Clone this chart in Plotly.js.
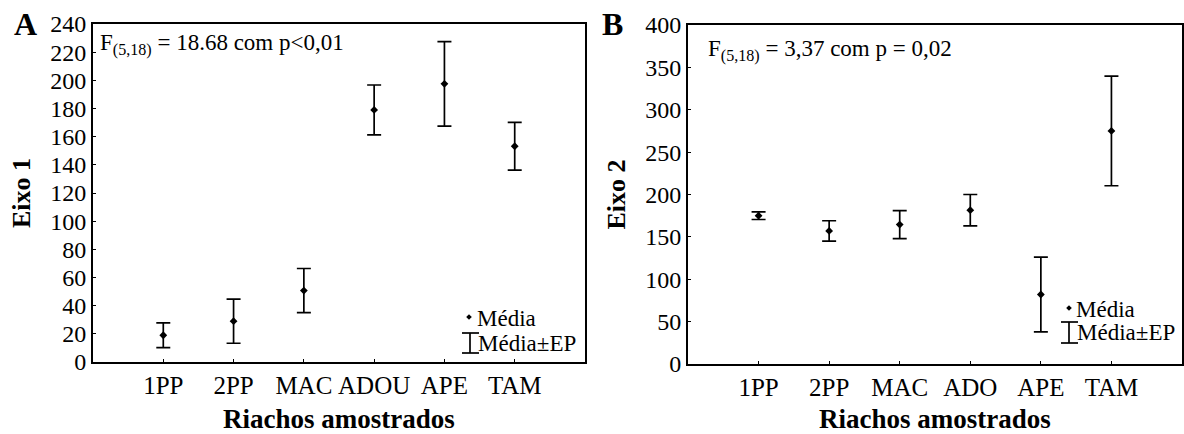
<!DOCTYPE html>
<html>
<head>
<meta charset="utf-8">
<script src="https://cdn.plot.ly/plotly-3.0.1.min.js"></script>
<style>html,body{margin:0;padding:0;background:#fff;}#chart{width:1184px;height:434px;}</style>
</head>
<body>
<div id="chart"></div>
<script>
// Panel A data (Eixo 1)
var categoriesA = ["1PP", "2PP", "MAC", "ADOU", "APE", "TAM"];
var meanA = [19, 29, 50.7, 179, 197.5, 153.2];
var seA = [8.8, 15.7, 15.7, 17.7, 30, 17];

// Panel B data (Eixo 2)
var categoriesB = ["1PP", "2PP", "MAC", "ADO", "APE", "TAM"];
var meanB = [175, 157, 164.5, 181.5, 82, 275];
var seB = [4.5, 12, 16.5, 18.5, 44, 64.7];

var W = 1184, H = 434;
function X(px){ return px / W; }
function Y(py){ return 1 - py / H; }

var FONT = 'Liberation Serif';

function trace(cats, means, se, xa, ya){
  return {
    type: 'scatter', mode: 'markers',
    x: cats, y: means, xaxis: xa, yaxis: ya,
    marker: {symbol: 'diamond', size: 6, color: '#000'},
    error_y: {type: 'data', array: se, visible: true, color: '#000', thickness: 1.7, width: 7},
    showlegend: false, hoverinfo: 'x+y'
  };
}

var data = [
  trace(categoriesA, meanA, seA, 'x', 'y'),
  trace(categoriesB, meanB, seB, 'x2', 'y2')
];

function xaxis(domain, anchor, cats){
  return {
    domain: domain, anchor: anchor, type: 'category', range: [-1, cats.length],
    showline: true, mirror: true, linecolor: '#000', linewidth: 2,
    ticks: 'inside', ticklen: 3, tickwidth: 1, tickcolor: '#000',
    showgrid: false, zeroline: false,
    tickfont: {family: FONT, size: 25, color: '#000'},
    title: {text: '<b>Riachos amostrados</b>', font: {family: FONT, size: 27, color: '#000'}, standoff: 11}
  };
}
function yaxis(domain, anchor, range, dtick, title){
  return {
    domain: domain, anchor: anchor, range: range, dtick: dtick,
    showline: true, mirror: true, linecolor: '#000', linewidth: 2,
    ticks: 'inside', ticklen: 3, tickwidth: 1, tickcolor: '#000',
    showgrid: false, zeroline: false,
    tickfont: {family: FONT, size: 24, color: '#000'},
    title: {text: '<b>' + title + '</b>', font: {family: FONT, size: 26, color: '#000'}, standoff: 12}
  };
}

var shapes = [];
var annotations = [];
function legendAt(dx, dy, tx, ty, bx, bt, bb, tx2, ty2){
  var s = 2.8;
  shapes.push({type: 'path', xref: 'paper', yref: 'paper',
    path: 'M ' + X(dx - s) + ',' + Y(dy) + ' L ' + X(dx) + ',' + Y(dy - s) + ' L ' + X(dx + s) + ',' + Y(dy) + ' L ' + X(dx) + ',' + Y(dy + s) + ' Z',
    fillcolor: '#000', line: {width: 0}});
  annotations.push({xref: 'paper', yref: 'paper', x: X(tx), y: Y(ty), xanchor: 'left', yanchor: 'middle',
    text: 'Média', showarrow: false, font: {family: FONT, size: 23, color: '#000'}});
  shapes.push({type: 'line', xref: 'paper', yref: 'paper', x0: X(bx), x1: X(bx), y0: Y(bt), y1: Y(bb), line: {color: '#000', width: 1.7}});
  shapes.push({type: 'line', xref: 'paper', yref: 'paper', x0: X(bx - 8), x1: X(bx + 9), y0: Y(bt), y1: Y(bt), line: {color: '#000', width: 1.7}});
  shapes.push({type: 'line', xref: 'paper', yref: 'paper', x0: X(bx - 8), x1: X(bx + 9), y0: Y(bb), y1: Y(bb), line: {color: '#000', width: 1.7}});
  annotations.push({xref: 'paper', yref: 'paper', x: X(tx2), y: Y(ty2), xanchor: 'left', yanchor: 'middle',
    text: 'Média±EP', showarrow: false, font: {family: FONT, size: 23, color: '#000'}});
}
legendAt(469, 317, 475, 318, 470, 333, 353, 476, 343);
legendAt(1069, 308, 1074, 309, 1069, 322, 343, 1075, 332);

annotations.push({xref: 'paper', yref: 'paper', x: X(98), y: Y(45), xanchor: 'left', yanchor: 'middle',
  text: 'F<sub>(5,18)</sub> = 18.68 com p&lt;0,01', showarrow: false, font: {family: FONT, size: 23, color: '#000'}});
annotations.push({xref: 'paper', yref: 'paper', x: X(706), y: Y(50), xanchor: 'left', yanchor: 'middle',
  text: 'F<sub>(5,18)</sub> = 3,37 com p = 0,02', showarrow: false, font: {family: FONT, size: 23, color: '#000'}});
annotations.push({xref: 'paper', yref: 'paper', x: X(25), y: Y(24), xanchor: 'center', yanchor: 'middle',
  text: '<b>A</b>', showarrow: false, font: {family: FONT, size: 32, color: '#000'}});
annotations.push({xref: 'paper', yref: 'paper', x: X(612), y: Y(24), xanchor: 'center', yanchor: 'middle',
  text: '<b>B</b>', showarrow: false, font: {family: FONT, size: 32, color: '#000'}});

var layout = {
  width: W, height: H,
  margin: {l: 0, r: 0, t: 0, b: 0},
  font: {family: FONT, color: '#000'},
  paper_bgcolor: '#fff', plot_bgcolor: '#fff',
  showlegend: false,
  xaxis: xaxis([X(93), X(585)], 'y', categoriesA),
  yaxis: yaxis([Y(362), Y(24)], 'x', [0, 240], 20, 'Eixo 1'),
  xaxis2: xaxis([X(688), X(1182)], 'y2', categoriesB),
  yaxis2: yaxis([Y(364), Y(25)], 'x2', [0, 400], 50, 'Eixo 2'),
  shapes: shapes,
  annotations: annotations
};

Plotly.newPlot('chart', data, layout, {displayModeBar: false, staticPlot: true});
</script>
</body>
</html>
